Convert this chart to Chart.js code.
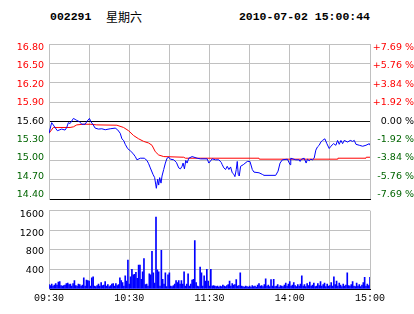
<!DOCTYPE html>
<html>
<head>
<meta charset="utf-8">
<script src="https://cdn.jsdelivr.net/npm/chart.js@4.4.1/dist/chart.umd.min.js"></script>
<style>
  body { margin: 0; background: #fff; }
  #wrap { position: relative; width: 414px; height: 314px; overflow: hidden; }
  canvas { position: absolute; left: 0; }
  #priceChart { top: 0; }
  #volumeChart { top: 200px; }
  .hdr { position: absolute; top: 10px; line-height: 14px; font: bold 11.5px 'Liberation Mono', monospace; color: #000; white-space: pre; }
  .cjk { font: 12px 'Noto Sans CJK SC', sans-serif; line-height: 14px; }
</style>
</head>
<body>
<div id="wrap">
  <div class="hdr" style="left:50px">002291</div>
  <div class="hdr cjk" style="left:106px">星期六</div>
  <div class="hdr" style="right:44px">2010-07-02 15:00:44</div>
  <canvas id="priceChart" width="414" height="210"></canvas>
  <canvas id="volumeChart" width="414" height="114"></canvas>
</div>
<script>
// minutes from 09:30 (11:30 and 13:00 share minute 120)
const gridMinutes = [0, 30, 60, 90, 120, 150, 180, 210, 240];
const timeTickMinutes = [0, 60, 120, 180, 240];
const timeTickLabels = ['09:30', '10:30', '11:30', '14:00', '15:00'];

const prevClose = 15.60;
const priceTicks = [14.40, 14.70, 15.00, 15.30, 15.60, 15.90, 16.20, 16.50, 16.80];
const pctLabels = ['-7.69 %', '-5.76 %', '-3.84 %', '-1.92 %', '0.00 %', '+1.92 %', '+3.84 %', '+5.76 %', '+7.69 %'];
const volumeTicks = [400, 800, 1200, 1600];

// last price
const priceMin = [0, 2, 4.5, 6.25, 9.5, 12, 13.25, 14.5, 15.75, 18.25, 19.5, 20.75, 22.75, 24.5, 27, 28.25,
  30.25, 31.25, 32.75, 34.5, 37, 39.5, 42, 45.75, 49.5, 51.25, 53.25, 54.5, 55.75, 57, 58.75, 60.75,
  62.75, 64.5, 65.75, 68.25, 71.25, 73.25, 74.5, 75.75, 77.75, 79, 79.75, 80.25, 81.25, 82, 82.75,
  83.75, 84.5, 85.75, 87, 88.25, 89.5, 90.75, 93.25, 95.25, 97, 98.25, 99.5, 100.25, 101.25, 102.25,
  103.25, 104.5, 107, 110.75, 113.25, 118.25, 119.5, 122, 124.5, 127, 128.75, 129.5, 130.75, 132,
  133.25, 134.5, 135.75, 137, 138.25, 139, 140, 140.75, 141.5, 142.25, 143.25, 145.25, 148.25, 150.25,
  152, 153.25, 157, 159.5, 160.75, 169.5, 171.25, 172.75, 174.5, 178.25, 180.25, 180.75, 184.5, 187,
  187.75, 188.75, 190.75, 192.25, 193.25, 194.5, 195.75, 197, 198.25, 199.5, 200.75, 202, 203.25,
  204.5, 206.25, 207.75, 209.5, 210.75, 212.75, 214.5, 215.75, 217, 218.25, 219.5, 220.75, 223.25,
  225.25, 227, 228.25, 229.5, 232, 234.5, 237, 239.5, 240];
const priceVal = [15.42, 15.585, 15.51, 15.46, 15.485, 15.47, 15.51, 15.585, 15.57, 15.65, 15.635, 15.62, 15.60, 15.56, 15.56, 15.60,
  15.65, 15.60, 15.56, 15.50, 15.485, 15.49, 15.475, 15.49, 15.50, 15.475, 15.42, 15.335, 15.31, 15.25, 15.185, 15.15,
  15.11, 15.06, 15.01, 15.035, 15.035, 15.00, 14.95, 14.885, 14.785, 14.735, 14.635, 14.57, 14.71, 14.62, 14.735,
  14.65, 14.76, 14.86, 14.96, 15.035, 15.05, 15.02, 15.01, 14.97, 14.885, 14.87, 14.91, 14.96, 14.87, 15.00,
  14.96, 15.035, 15.06, 15.035, 15.025, 15.025, 14.96, 15.025, 15.01, 15.01, 14.97, 14.935, 14.885, 14.86,
  14.91, 14.86, 14.90, 14.81, 14.785, 14.75, 14.86, 14.985, 14.785, 14.76, 14.91, 14.935, 14.985, 14.985,
  14.86, 14.82, 14.81, 14.785, 14.77, 14.77, 14.835, 14.96, 15.01, 15.02, 14.935, 15.035, 15.01, 15.01,
  14.985, 15.02, 15.035, 14.96, 15.02, 14.995, 15.02, 15.01, 15.035, 15.16, 15.21, 15.235, 15.285,
  15.31, 15.335, 15.26, 15.185, 15.22, 15.26, 15.235, 15.31, 15.25, 15.31, 15.26, 15.31, 15.285,
  15.31, 15.295, 15.31, 15.25, 15.235, 15.22, 15.235, 15.26, 15.235];

// average price
const avgMin = [0, 3.25, 15.75, 18.25, 20.75, 25.75, 30.75, 35.75, 50.75, 55.75, 59.5, 63.25, 67, 70.75, 74.5, 77,
  79.5, 82, 85.75, 100.75, 102, 157, 157.25, 215.75, 216, 237, 237.25, 240];
const avgVal = [15.42, 15.51, 15.51, 15.52, 15.55, 15.56, 15.56, 15.55, 15.545, 15.51, 15.46, 15.385, 15.335, 15.295, 15.27, 15.235,
  15.135, 15.085, 15.06, 15.05, 15.035, 15.035, 15.02, 15.02, 15.035, 15.035, 15.05, 15.05];

// volume per minute
const volumes = [
  90, 70, 100, 60, 80, 110, 80, 140, 150, 70,
  60, 70, 80, 110, 120, 90, 100, 60, 110, 170,
  70, 60, 100, 90, 60, 80, 230, 60, 180, 170,
  160, 60, 230, 250, 60, 50, 70, 100, 60, 130,
  70, 80, 150, 60, 90, 50, 70, 100, 110, 60,
  110, 70, 90, 230, 170, 130, 60, 270, 160, 590,
  100, 250, 400, 290, 300, 340, 220, 490, 490, 200,
  350, 620, 90, 100, 60, 310, 290, 770, 330, 120,
  1470, 390, 350, 60, 790, 200, 100, 330, 50, 290,
  330, 60, 50, 70, 100, 170, 130, 170, 100, 170,
  100, 350, 60, 100, 310, 60, 100, 180, 200, 990,
  130, 60, 50, 450, 330, 60, 270, 160, 400, 160,
  60, 400, 60, 70, 60, 50, 60, 40, 60, 50,
  80, 60, 50, 70, 90, 160, 60, 110, 80, 90,
  190, 60, 70, 330, 60, 50, 40, 60, 50, 40,
  60, 40, 70, 50, 60, 40, 80, 110, 60, 70,
  50, 90, 210, 60, 80, 50, 190, 60, 200, 50,
  60, 90, 40, 70, 60, 50, 80, 120, 60, 100,
  150, 60, 80, 130, 70, 50, 90, 60, 100, 270,
  60, 90, 50, 110, 70, 140, 60, 80, 120, 50,
  60, 110, 70, 150, 60, 90, 120, 50, 100, 60,
  70, 130, 60, 250, 90, 160, 60, 120, 80, 50,
  100, 60, 80, 330, 70, 60, 90, 150, 60, 50,
  120, 60, 90, 50, 80, 130, 240, 60, 100, 70,
  240];

const RED = '#ff0000';
const GREEN = '#006400';
const GRID = '#c0c0c0';
const labelFont = { family: 'DejaVu Sans', size: 9.5 };

function priceColor(v) {
  if (Math.abs(v - prevClose) < 1e-6) return '#000';
  return v > prevClose ? RED : GREEN;
}
const setTicks = (list) => (axis) => { axis.ticks = list.map((v) => ({ value: v })); };

new Chart(document.getElementById('priceChart'), {
  type: 'line',
  data: {
    datasets: [
      {
        data: priceMin.map((m, i) => ({ x: m, y: priceVal[i] })),
        borderColor: '#0000ff',
        borderWidth: 1,
        pointRadius: 0,
        tension: 0,
      },
      {
        data: avgMin.map((m, i) => ({ x: m, y: avgVal[i] })),
        borderColor: RED,
        borderWidth: 1,
        pointRadius: 0,
        tension: 0,
      },
    ],
  },
  options: {
    responsive: false,
    animation: false,
    devicePixelRatio: 1,
    layout: { padding: { top: 44, bottom: 6 } },
    plugins: { legend: { display: false }, tooltip: { enabled: false } },
    scales: {
      x: {
        type: 'linear', min: 0, max: 240,
        afterBuildTicks: setTicks(gridMinutes),
        ticks: { display: false },
        grid: { color: GRID, drawTicks: false },
        border: { color: '#000' },
        afterFit: (a) => { a.height = 0; },
      },
      y: {
        position: 'left', min: 14.4, max: 16.8,
        afterBuildTicks: setTicks(priceTicks),
        ticks: { display: false },
        grid: {
          drawTicks: false,
          color: (c) => (Math.abs(c.tick.value - prevClose) < 1e-6 || Math.abs(c.tick.value - 14.4) < 1e-6 ? '#000' : GRID),
        },
        border: { color: GRID },
        afterFit: (a) => { a.width = 0; },
      },
      yl: {
        position: 'left', min: 14.3256, max: 16.8586,
        afterBuildTicks: setTicks(priceTicks),
        ticks: { font: labelFont, padding: 5, autoSkip: false, color: (c) => priceColor(c.tick.value), callback: (v) => v.toFixed(2) },
        grid: { display: false, drawTicks: false },
        border: { display: false },
        afterFit: (a) => { a.width = 49; },
      },
      yr: {
        position: 'right', min: 14.3256, max: 16.8586,
        afterBuildTicks: setTicks(priceTicks),
        ticks: { font: labelFont, padding: 2, crossAlign: 'far', autoSkip: false, color: (c) => priceColor(c.tick.value), callback: (v, i) => pctLabels[i] },
        grid: { display: false, drawTicks: false },
        border: { display: false },
        afterFit: (a) => { a.width = 44; },
      },
    },
  },
});

new Chart(document.getElementById('volumeChart'), {
  type: 'bar',
  data: {
    datasets: [{
      data: volumes.map((v, i) => ({ x: i, y: v })),
      backgroundColor: '#0000ff',
      borderWidth: 0,
      barThickness: 1,
    }],
  },
  options: {
    responsive: false,
    animation: false,
    devicePixelRatio: 1,
    layout: { padding: { top: 9, right: 44 } },
    plugins: { legend: { display: false }, tooltip: { enabled: false } },
    scales: {
      x: {
        type: 'linear', min: 0, max: 240, offset: false,
        afterBuildTicks: setTicks(gridMinutes),
        ticks: {
          font: { family: 'Liberation Mono', size: 10 }, color: '#000', padding: 3,
          maxRotation: 0, autoSkip: false,
          callback: (v) => { const k = timeTickMinutes.indexOf(v); return k < 0 ? '' : timeTickLabels[k]; },
        },
        grid: { color: GRID, drawTicks: false, offset: false },
        border: { color: '#000' },
        afterFit: (a) => { a.height = 25; },
      },
      y: {
        position: 'left', min: 0, max: 1600,
        afterBuildTicks: setTicks([0].concat(volumeTicks)),
        ticks: { display: false },
        grid: { drawTicks: false, color: (c) => (c.tick.value === 0 ? '#000' : GRID) },
        border: { color: GRID },
        afterFit: (a) => { a.width = 0; },
      },
      yl: {
        position: 'left', min: 1, max: 1691,
        afterBuildTicks: setTicks(volumeTicks),
        ticks: { font: labelFont, color: '#000', padding: 5, autoSkip: false, callback: (v) => String(v) },
        grid: { display: false, drawTicks: false },
        border: { display: false },
        afterFit: (a) => { a.width = 49; },
      },
    },
  },
});
</script>
</body>
</html>
